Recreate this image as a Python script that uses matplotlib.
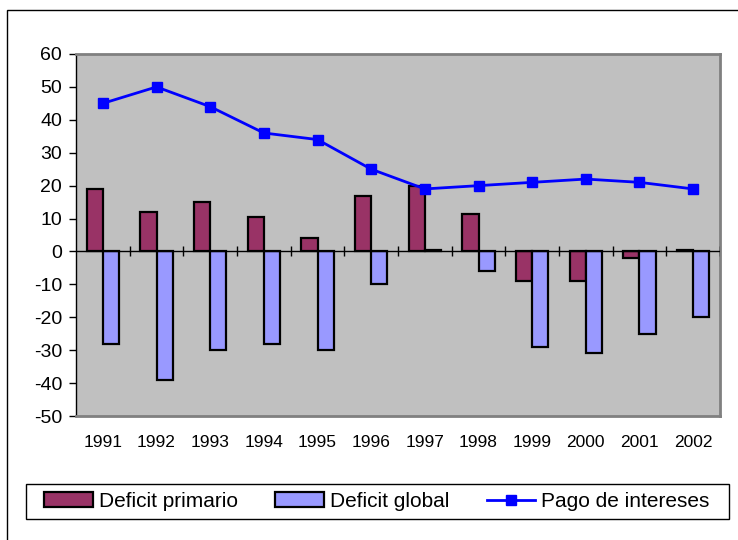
"""Deficit primario, deficit global y pago de intereses, 1991-2002."""

import matplotlib

matplotlib.use("Agg")
import matplotlib.pyplot as plt
import numpy as np
from matplotlib.patches import Rectangle

plt.rcParams["font.family"] = ["Liberation Sans", "DejaVu Sans"]
plt.rcParams["axes.unicode_minus"] = False

years = ["1991", "1992", "1993", "1994", "1995", "1996",
         "1997", "1998", "1999", "2000", "2001", "2002"]
deficit_primario = [19, 12, 15, 10.5, 4, 17, 20, 11.5, -9, -9, -2, 0.5]
deficit_global = [-28, -39, -30, -28, -30, -10, 0.3, -6, -29, -31, -25, -20]
pago_intereses = [45, 50, 44, 36, 34, 25, 19, 20, 21, 22, 21, 19]
y_ticks = list(range(-50, 61, 10))


def main():
    fig = plt.figure(figsize=(7.38, 5.40), dpi=100)
    ax = fig.add_axes([0.103, 0.2296, 0.8726, 0.6704])

    # outer frame of the original chart object
    fig.patches.append(Rectangle((7 / 738, -0.2), 1.2, 1.2 - 10 / 540,
                                 transform=fig.transFigure, fill=False,
                                 edgecolor="black", linewidth=1.0))

    x = np.arange(len(years))
    w = 0.3
    bars_p = ax.bar(x - w / 2, deficit_primario, w, color="#993366",
                    edgecolor="black", linewidth=1.6, zorder=2)
    bars_g = ax.bar(x + w / 2, deficit_global, w, color="#9999FF",
                    edgecolor="black", linewidth=1.6, zorder=2)
    (line,) = ax.plot(x, pago_intereses, color="#0000FF", linewidth=2,
                      marker="s", markersize=7.5, zorder=4)

    ax.set_facecolor("#C0C0C0")
    ax.set_xlim(-0.5, len(years) - 0.5)
    ax.set_ylim(-50, 60)
    ax.set_yticks(y_ticks)
    ax.set_xticks(x)
    ax.set_xticklabels(years)
    ax.tick_params(axis="x", length=0, pad=14, labelsize=12.5)
    ax.tick_params(axis="y", length=5, width=1, direction="out", labelsize=14, pad=5)

    # zero line with category separator ticks
    ax.axhline(0, color="black", linewidth=1, zorder=3)
    ax.vlines(x + 0.5, -1.5, 1.8, color="black", linewidth=1, zorder=3)

    for side in ["top", "right", "bottom"]:
        ax.spines[side].set_color("#808080")
        ax.spines[side].set_linewidth(2)
    ax.spines["left"].set_color("black")
    ax.spines["left"].set_linewidth(1)

    # legend box with three entries placed like the original
    fig.patches.append(Rectangle((26 / 738, 1 - 519 / 540), 703 / 738, 35 / 540,
                                 transform=fig.transFigure, fill=False,
                                 edgecolor="black", linewidth=1.0))
    handles = [bars_p, bars_g, line]
    labels = ["Deficit primario", "Deficit global", "Pago de intereses"]
    starts = [44, 275, 487]
    lengths = [2.35, 2.35, 2.3]
    for h, lab, x0, hl in zip(handles, labels, starts, lengths):
        fig.legend([h], [lab], loc="center left",
                   bbox_to_anchor=(x0 / 738, 1 - 501.5 / 540),
                   frameon=False, fontsize=15, handlelength=hl,
                   handleheight=0.72, handletextpad=0.3,
                   borderpad=0, borderaxespad=0)

    fig.savefig("out.png", dpi=100)
    plt.close(fig)


if __name__ == "__main__":
    main()
